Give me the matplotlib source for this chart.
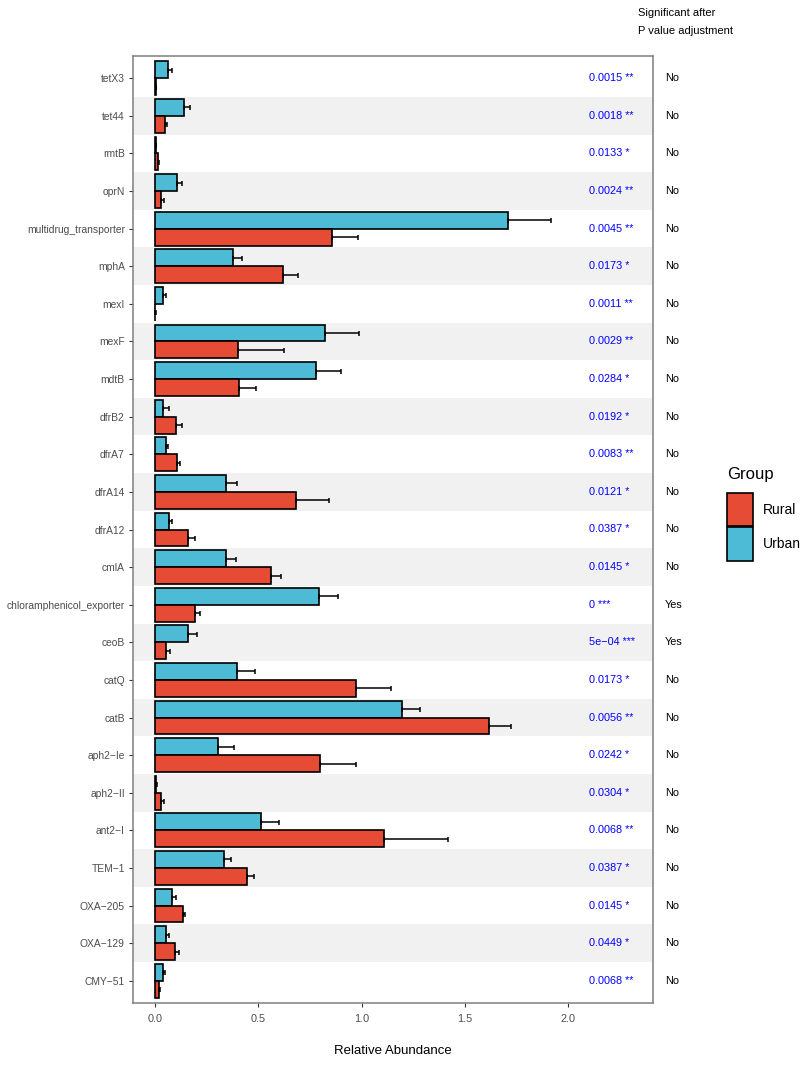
import matplotlib
matplotlib.use("Agg")
import matplotlib.pyplot as plt
import numpy as np
from matplotlib.patches import Patch

plt.rcParams["font.family"] = ["Liberation Sans", "DejaVu Sans"]

# genes listed top to bottom
genes = ["tetX3", "tet44", "rmtB", "oprN", "multidrug_transporter", "mphA", "mexI",
         "mexF", "mdtB", "dfrB2", "dfrA7", "dfrA14", "dfrA12", "cmlA",
         "chloramphenicol_exporter", "ceoB", "catQ", "catB", "aph2\u2212Ie",
         "aph2\u2212II", "ant2\u2212I", "TEM\u22121", "OXA\u2212205", "OXA\u2212129",
         "CMY\u221251"]

urban_mean = [0.063, 0.140, 0.003, 0.105, 1.709, 0.376, 0.039, 0.824, 0.779, 0.040,
              0.052, 0.345, 0.069, 0.344, 0.792, 0.161, 0.395, 1.193, 0.305, 0.006,
              0.515, 0.334, 0.084, 0.053, 0.040]
urban_se = [0.019, 0.031, 0.001, 0.026, 0.205, 0.045, 0.013, 0.161, 0.121, 0.026,
            0.009, 0.052, 0.012, 0.048, 0.093, 0.042, 0.089, 0.089, 0.077, 0.004,
            0.087, 0.032, 0.018, 0.016, 0.007]
rural_mean = [0.003, 0.050, 0.015, 0.031, 0.855, 0.618, 0.002, 0.400, 0.408, 0.102,
              0.106, 0.682, 0.161, 0.561, 0.194, 0.055, 0.971, 1.617, 0.800, 0.031,
              1.109, 0.445, 0.134, 0.095, 0.019]
rural_se = [0.001, 0.006, 0.004, 0.014, 0.126, 0.072, 0.001, 0.223, 0.081, 0.029,
            0.015, 0.158, 0.031, 0.049, 0.024, 0.016, 0.171, 0.104, 0.171, 0.011,
            0.310, 0.036, 0.013, 0.021, 0.005]

p_labels = ["0.0015 **", "0.0018 **", "0.0133 *", "0.0024 **", "0.0045 **", "0.0173 *",
            "0.0011 **", "0.0029 **", "0.0284 *", "0.0192 *", "0.0083 **", "0.0121 *",
            "0.0387 *", "0.0145 *", "0 ***", "5e\u221204 ***", "0.0173 *", "0.0056 **",
            "0.0242 *", "0.0304 *", "0.0068 **", "0.0387 *", "0.0145 *", "0.0449 *",
            "0.0068 **"]
significant = ["No"] * 14 + ["Yes", "Yes"] + ["No"] * 9

RURAL = "#E64B35"
URBAN = "#4DBBD5"
W, H = 800, 1067

fig = plt.figure(figsize=(W / 100, H / 100), dpi=100)
ax = fig.add_axes([132.5 / W, 1 - 1003.3 / H, 520.2 / W, 947.6 / H])

y = np.arange(len(genes))
bw = 0.45

# alternating stripes
for i in y:
    if i % 2 == 1:
        ax.axhspan(i - 0.5, i + 0.5, color="#F1F1F1", lw=0, zorder=0)

ax.barh(y - bw / 2, urban_mean, height=bw, color=URBAN, edgecolor="black",
        linewidth=1.2, zorder=2)
ax.barh(y + bw / 2, rural_mean, height=bw, color=RURAL, edgecolor="black",
        linewidth=1.2, zorder=2)
ax.errorbar(urban_mean, y - bw / 2, xerr=[np.zeros(len(y)), urban_se], fmt="none",
            ecolor="black", elinewidth=1.1, capsize=1.8, capthick=1.1, zorder=3)
ax.errorbar(rural_mean, y + bw / 2, xerr=[np.zeros(len(y)), rural_se], fmt="none",
            ecolor="black", elinewidth=1.1, capsize=1.8, capthick=1.1, zorder=3)

for i, (p, s) in enumerate(zip(p_labels, significant)):
    ax.text(2.1, i, p, ha="left", va="center", color="#0000FF", fontsize=7.8, zorder=4)
    ax.text(2.467, i, s, ha="left", va="center", color="black", fontsize=7.8,
            clip_on=False)

ax.set_xlim(-0.109, 2.408)
ax.set_ylim(len(genes) - 0.4, -0.6)
ax.set_yticks(y)
ax.set_yticklabels(genes)
ax.set_xticks([0, 0.5, 1.0, 1.5, 2.0])
ax.set_xticklabels(["0.0", "0.5", "1.0", "1.5", "2.0"])
ax.tick_params(axis="both", labelsize=7.8, labelcolor="#4D4D4D", color="#333333",
               length=3, width=0.8)
ax.tick_params(axis="y", labelsize=7.4, pad=2.5)
ax.tick_params(axis="x", pad=5)
for sp in ax.spines.values():
    sp.set_color("#7F7F7F")
    sp.set_linewidth(1.1)
ax.set_xlabel("Relative Abundance", fontsize=9.5, labelpad=15)

fig.text(638 / W, 1 - 12.7 / H, "Significant after", ha="left", va="center", fontsize=8)
fig.text(638 / W, 1 - 31 / H, "P value adjustment", ha="left", va="center", fontsize=8)

handles = [Patch(facecolor=RURAL, edgecolor="black", linewidth=1.2, label="Rural"),
           Patch(facecolor=URBAN, edgecolor="black", linewidth=1.2, label="Urban")]
leg = fig.legend(handles=handles, title="Group", loc="upper left",
                 bbox_to_anchor=(720 / W, 1 - 460 / H), frameon=False, fontsize=10,
                 title_fontsize=12, handlelength=1.85, handleheight=3.3,
                 labelspacing=0.08, handletextpad=0.75, borderpad=0,
                 alignment="left")
leg._legend_box.sep = 8

fig.savefig("out.png", dpi=100)
